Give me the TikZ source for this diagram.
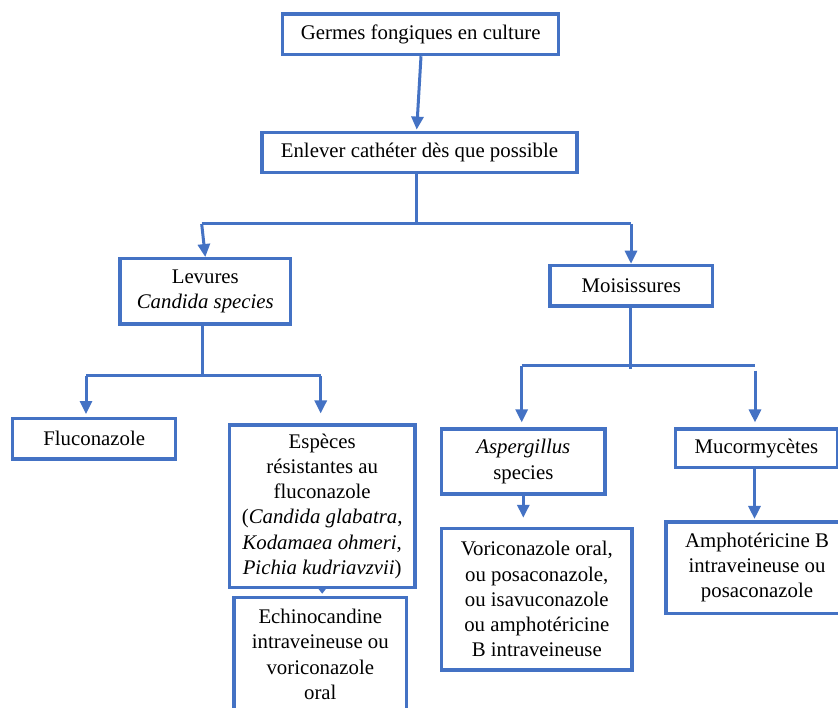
\documentclass[tikz,border=0pt]{standalone}
\usepackage{fontspec}
\setmainfont{Liberation Serif}
\usetikzlibrary{arrows.meta,calc}
\definecolor{boxblue}{RGB}{68,114,196}
\tikzset{
  box/.style={draw=boxblue, line width=3.2pt, fill=white, inner sep=0pt, align=center,
    font=\fontsize{20.8}{25.2}\selectfont},
  conn/.style={draw=boxblue, line width=3pt},
  arr/.style={conn, -{Triangle[width=12pt,length=13pt]}},
  arrsmall/.style={conn, -{Triangle[width=9pt,length=6pt]}}
}
\begin{document}
\begin{tikzpicture}[x=1pt,y=-1pt]
\useasboundingbox (0,0) rectangle (838,708);
\fill[white] (0,0) rectangle (838,708);
\clip (0,0) rectangle (838,708);

% boxes
\node[box, minimum width=276pt, minimum height=40.7pt] (b1) at (420.7,34.3) {Germes fongiques en culture};
\node[box, minimum width=315pt, minimum height=40pt] (b2) at (419.5,152.7) {Enlever cathéter dès que possible};
\node[box, minimum width=170.7pt, minimum height=65.3pt] (lev) at (205.3,291.3) {Levures\\\textit{Candida species}};
\node[box, minimum width=162.7pt, minimum height=40.7pt] (mois) at (631.3,285.7) {Moisissures};
\node[box, minimum width=163pt, minimum height=40.3pt] (fluco) at (94.2,438.8) {Fluconazole};
\node[box, minimum width=185.7pt, minimum height=162.3pt] (esp) at (322.2,506.2) {Espèces\\résistantes au\\fluconazole\\(\textit{Candida glabatra},\\\textit{Kodamaea ohmeri},\\\textit{Pichia kudriavzvii})};
\node[box, minimum width=172.7pt, minimum height=114pt] (echi) at (320.3,654.3) {Echinocandine\\intraveineuse ou\\voriconazole\\oral};
\node[box, minimum width=163.3pt, minimum height=65pt] (asp) at (523.3,461.5) {\textit{Aspergillus}\\species};
\node[box, minimum width=190.3pt, minimum height=141.7pt] (vori) at (536.8,599.2) {Voriconazole oral,\\ou posaconazole,\\ou isavuconazole\\ou amphotéricine\\B intraveineuse};
\node[box, minimum width=161.6pt, minimum height=38.3pt] (muc) at (756.5,448.2) {Mucormycètes};
\node[box, minimum width=182pt, minimum height=91.3pt] (amph) at (757,567.7) {Amphotéricine B\\intraveineuse ou\\posaconazole};

% junction coordinates
\coordinate (j1) at (416.5,224);
\coordinate (j1l) at (201.7,224);
\coordinate (j1r) at (631,224);
\coordinate (j2) at (202,376);
\coordinate (j2l) at (86,376);
\coordinate (j2r) at (320.7,376);
\coordinate (j3) at (630.7,369);
\coordinate (j3l) at (521.7,365.7);
\coordinate (j3r) at (755,365.7);
\coordinate (j3rs) at (755,370.7);

% connectors
\draw[arr] ($(b1.south)+(0.3,0)$) -- ($(b2.north)+(-2.8,-1.5)$);
\draw[conn] (j1 |- b2.south) -- (j1);
\draw[conn] (j1l) -- (j1r);
\draw[arr] (j1l) -- (lev.north);
\draw[arr] (j1r) -- (j1r |- mois.north);

\draw[conn] (j2 |- lev.south) -- (j2);
\draw[conn] (j2l) -- (j2r);
\draw[arr, shorten >=3pt] (j2l) -- (j2l |- fluco.north);
\draw[arr, shorten >=10pt] (j2r) -- (j2r |- esp.north);
\draw[arrsmall, shorten >=2pt] (esp.south) -- (esp.south |- echi.north);

\draw[conn] (j3 |- mois.south) -- (j3);
\draw[conn] (j3l) -- (j3r);
\draw[arr, shorten >=5pt] (j3l) -- (j3l |- asp.north);
\draw[arr, shorten >=5pt] (j3rs) -- (j3rs |- muc.north);
\draw[arr, shorten >=9pt] (asp.south) -- (asp.south |- vori.north);
\draw[arr, shorten >=1.5pt] ($(muc.south)+(-2,0)$) -- ($(muc.south |- amph.north)+(-2,0)$);
\end{tikzpicture}
\end{document}
